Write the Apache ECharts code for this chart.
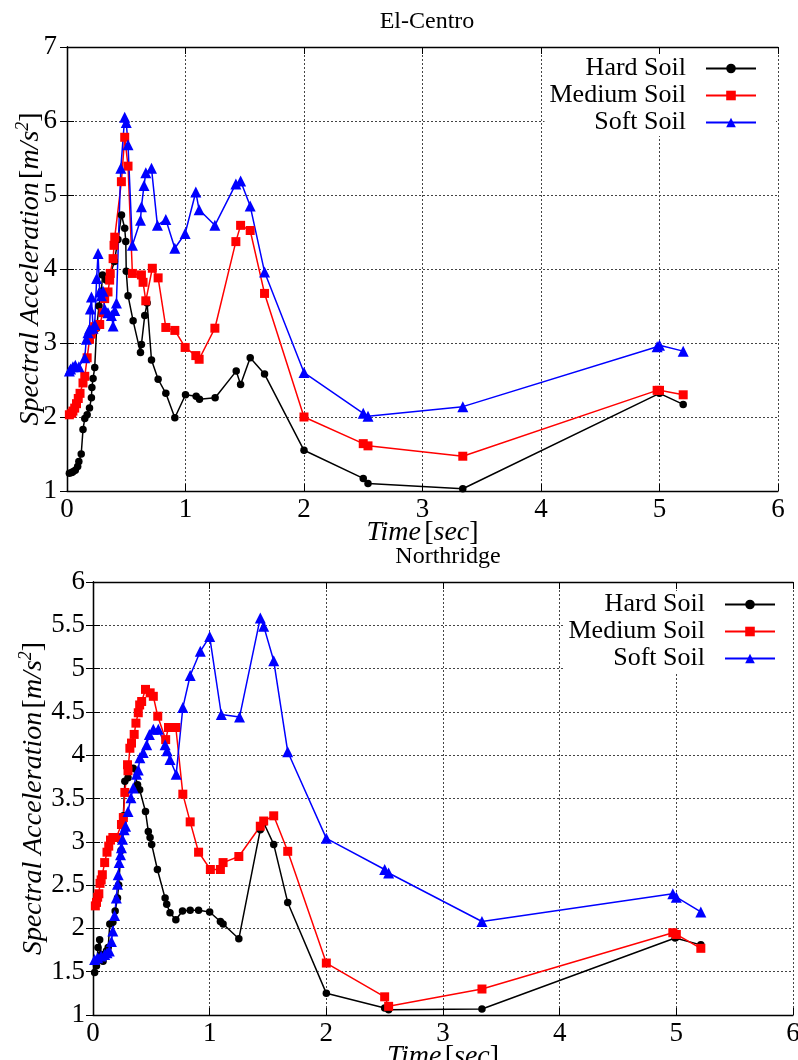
<!DOCTYPE html>
<html>
<head>
<meta charset="utf-8">
<script src="https://cdn.jsdelivr.net/npm/echarts@6/dist/echarts.min.js"></script>
<style>
html,body{margin:0;padding:0;background:#fff;}
#chart{width:798px;height:1060px;}
</style>
</head>
<body>
<div id="chart"></div>
<script>
// ---------- Data ----------
const seriesNames = ['Hard Soil', 'Medium Soil', 'Soft Soil'];
const chartTitles = ['El-Centro', 'Northridge'];

// El-Centro
const hardEC_T = [0.02,0.04,0.05,0.07,0.09,0.10,0.12,0.135,0.15,0.17,0.19,0.206,0.21,0.22,0.234,0.25,0.27,0.29,0.30,0.33,0.36,0.40,0.43,0.46,0.487,0.496,0.50,0.515,0.558,0.62,0.628,0.656,0.676,0.713,0.769,0.834,0.91,1.0,1.09,1.118,1.25,1.428,1.465,1.546,1.667,2.0,2.5,2.54,3.34,5.0,5.2];
const hardEC   = [1.24,1.25,1.26,1.28,1.33,1.40,1.50,1.83,1.98,2.03,2.12,2.26,2.40,2.52,2.67,3.2,3.5,3.7,3.92,3.85,3.9,4.1,4.4,4.73,4.55,4.37,3.97,3.64,3.30,2.87,2.98,3.37,3.54,2.77,2.51,2.32,1.99,2.30,2.28,2.24,2.26,2.62,2.44,2.80,2.58,1.55,1.17,1.10,1.03,2.32,2.17];

const medEC_T = [0.02,0.04,0.05,0.065,0.08,0.095,0.11,0.135,0.15,0.17,0.19,0.206,0.22,0.234,0.276,0.304,0.318,0.346,0.36,0.365,0.389,0.397,0.403,0.459,0.487,0.515,0.552,0.628,0.642,0.665,0.72,0.769,0.834,0.91,0.997,1.087,1.115,1.248,1.425,1.465,1.546,1.667,2.0,2.5,2.54,3.34,4.98,5.0,5.2];
const medEC   = [2.03,2.05,2.08,2.12,2.18,2.25,2.32,2.46,2.55,2.80,3.05,3.12,3.18,3.22,3.25,3.41,3.60,3.69,3.85,3.94,4.14,4.32,4.43,5.18,5.78,5.39,3.94,3.92,3.82,3.57,4.01,3.88,3.21,3.17,2.94,2.83,2.78,3.20,4.37,4.59,4.52,3.67,2.0,1.64,1.61,1.47,2.36,2.36,2.30];

const softEC_T = [0.02,0.03,0.05,0.07,0.10,0.15,0.163,0.177,0.19,0.197,0.206,0.22,0.234,0.25,0.262,0.276,0.29,0.304,0.318,0.346,0.375,0.389,0.403,0.417,0.454,0.487,0.50,0.515,0.552,0.62,0.628,0.65,0.665,0.713,0.763,0.834,0.91,0.997,1.087,1.115,1.248,1.425,1.465,1.546,1.667,2.0,2.5,2.54,3.34,4.98,5.0,5.2];
const softEC   = [2.62,2.65,2.68,2.70,2.68,2.80,3.05,3.14,3.19,3.46,3.62,3.20,3.25,3.87,4.21,3.69,3.64,3.70,3.46,3.41,3.37,3.23,3.44,3.54,5.36,6.05,5.98,5.68,4.32,4.66,4.84,5.13,5.30,5.36,4.59,4.67,4.28,4.48,5.04,4.80,4.59,5.15,5.19,4.85,3.96,2.60,2.05,2.01,2.14,2.95,2.97,2.89];

// Northridge
const hardNR_T = [0.014,0.03,0.043,0.057,0.07,0.086,0.115,0.13,0.144,0.17,0.19,0.21,0.22,0.24,0.26,0.273,0.30,0.345,0.382,0.40,0.45,0.474,0.489,0.503,0.552,0.618,0.632,0.66,0.71,0.767,0.833,0.905,1.0,1.092,1.115,1.25,1.434,1.463,1.549,1.669,2.0,2.5,2.534,3.334,4.99,5.0,5.21];
const hardNR   = [1.49,1.57,1.78,1.87,1.70,1.62,1.74,1.78,2.05,2.07,2.2,2.35,2.5,2.9,3.3,3.70,3.74,3.85,3.66,3.60,3.35,3.12,3.05,2.97,2.68,2.35,2.28,2.18,2.10,2.20,2.21,2.21,2.19,2.08,2.05,1.88,3.14,3.22,2.97,2.30,1.25,1.08,1.06,1.07,1.89,1.90,1.81];

const medNR_T = [0.02,0.03,0.04,0.05,0.06,0.07,0.08,0.1,0.12,0.135,0.15,0.17,0.2,0.244,0.26,0.273,0.296,0.30,0.316,0.33,0.353,0.368,0.388,0.40,0.417,0.45,0.49,0.517,0.555,0.623,0.647,0.71,0.77,0.833,0.905,1.006,1.092,1.115,1.25,1.434,1.463,1.549,1.669,2.0,2.5,2.534,3.334,4.97,5.0,5.21];
const medNR   = [2.26,2.30,2.36,2.40,2.52,2.56,2.62,2.76,2.88,2.95,3.02,3.05,3.05,3.20,3.28,3.57,3.89,3.82,4.08,4.14,4.24,4.37,4.49,4.58,4.62,4.76,4.72,4.68,4.45,4.18,4.32,4.32,3.55,3.23,2.88,2.68,2.68,2.76,2.83,3.18,3.24,3.30,2.89,1.60,1.21,1.10,1.30,1.95,1.93,1.77];

const softNR_T = [0.014,0.04,0.07,0.1,0.12,0.14,0.158,0.17,0.185,0.2,0.21,0.216,0.224,0.236,0.244,0.253,0.267,0.279,0.30,0.325,0.345,0.374,0.388,0.402,0.43,0.46,0.483,0.517,0.56,0.618,0.635,0.66,0.713,0.77,0.833,0.92,1.0,1.10,1.256,1.434,1.463,1.549,1.669,2.0,2.5,2.534,3.334,4.97,5.0,5.21];
const softNR   = [1.64,1.66,1.68,1.70,1.72,1.74,1.85,1.97,2.15,2.35,2.51,2.62,2.76,2.85,2.93,3.03,3.14,3.18,3.35,3.51,3.62,3.78,3.83,3.97,4.03,4.12,4.24,4.30,4.30,4.12,4.05,3.95,3.78,4.55,4.92,5.20,5.37,4.47,4.44,5.585,5.49,5.09,4.04,3.04,2.68,2.64,2.08,2.40,2.36,2.19];

// Axis ranges / ticks
const xRange = {min: 0, max: 6, interval: 1};
const yRangeEC = {min: 1, max: 7, interval: 1};
const yRangeNR = {min: 1, max: 6, interval: 0.5};

// ---------- Chart ----------
const FONT = '"Liberation Serif", "DejaVu Serif", serif';
const pairs = (xs, ys) => xs.map((x, i) => [x, ys[i]]);

const styles = [
  {color: '#000000', symbol: 'circle', symbolSize: 7.5},
  {color: '#ff0000', symbol: 'rect', symbolSize: 9},
  {color: '#0000ff', symbol: 'triangle', symbolSize: 11}
];

const grids = [
  {left: 67, right: 20, top: 47, height: 444, outerBoundsMode: 'none', containLabel: false},
  {left: 93, right: 5, top: 582, height: 433, outerBoundsMode: 'none', containLabel: false}
];

const axisLine = {show: true, lineStyle: {color: '#000', width: 1.3}};
const axisTick = {show: true, inside: true, length: 7, lineStyle: {color: '#000', width: 1}};
const splitLine = {show: true, lineStyle: {color: '#444', width: 1, type: [2, 2]}};
const labelStyle = {fontFamily: FONT, fontSize: 27, color: '#000'};

const nameRich = {
  i: {fontFamily: FONT, fontSize: 28, fontStyle: 'italic', color: '#000'},
  u: {fontFamily: FONT, fontSize: 28, color: '#000'},
  sup: {fontFamily: FONT, fontSize: 18, fontStyle: 'italic', color: '#000', padding: [0, 0, 15, 0]}
};
const xName = '{i|Time} {u|[}{i|sec}{u|]}';
const yName = '{i|Spectral Acceleration} {u|[}{i|m/s}{sup|2}{u|]}';

const xAxes = [], yAxes = [];
[0, 1].forEach(g => {
  const yr = g === 0 ? yRangeEC : yRangeNR;
  xAxes.push({
    type: 'value', gridIndex: g, position: 'bottom', ...xRange,
    axisLine, axisTick, splitLine,
    axisLabel: {...labelStyle, margin: 5},
    name: xName, nameLocation: 'middle', nameGap: 28, nameMoveOverlap: false,
    nameTextStyle: {rich: nameRich}
  });
  xAxes.push({
    type: 'value', gridIndex: g, position: 'top', ...xRange,
    axisLine, axisTick, splitLine: {show: false}, axisLabel: {show: false}
  });
  yAxes.push({
    type: 'value', gridIndex: g, position: 'left', ...yr,
    axisLine, axisTick, splitLine,
    axisLabel: {...labelStyle, margin: g === 0 ? 10 : 8},
    name: yName, nameLocation: 'middle', nameGap: g === 0 ? 20 : 43, nameMoveOverlap: false,
    nameTextStyle: {rich: nameRich}
  });
  yAxes.push({
    type: 'value', gridIndex: g, position: 'right', ...yr,
    axisLine, axisTick, splitLine: {show: false}, axisLabel: {show: false}
  });
});

const dataSets = [
  [pairs(hardEC_T, hardEC), pairs(medEC_T, medEC), pairs(softEC_T, softEC)],
  [pairs(hardNR_T, hardNR), pairs(medNR_T, medNR), pairs(softNR_T, softNR)]
];

const series = [];
[0, 1].forEach(g => {
  dataSets[g].forEach((d, k) => {
    series.push({
      type: 'line', name: seriesNames[k],
      xAxisIndex: g * 2, yAxisIndex: g * 2,
      data: d,
      symbol: styles[k].symbol, symbolSize: styles[k].symbolSize,
      showAllSymbol: true,
      lineStyle: {color: styles[k].color, width: 1.5},
      itemStyle: {color: styles[k].color},
      emphasis: {disabled: true}
    });
  });
});

const legendBase = {
  orient: 'vertical', align: 'right', itemGap: 0,
  itemWidth: 50, itemHeight: 12, backgroundColor: '#fff',
  textStyle: {fontFamily: FONT, fontSize: 26, color: '#000', lineHeight: 27, padding: [0, 15, 0, 0]},
  selectedMode: false, data: seriesNames
};

const option = {
  animation: false,
  backgroundColor: '#fff',
  title: [
    {text: chartTitles[0], left: 422, top: 5, textAlign: 'center',
     textStyle: {fontFamily: FONT, fontSize: 24, fontWeight: 'normal', color: '#000'}},
    {text: chartTitles[1], left: 443, top: 540, textAlign: 'center',
     textStyle: {fontFamily: FONT, fontSize: 24, fontWeight: 'normal', color: '#000'}}
  ],
  legend: [
    {...legendBase, top: 55, right: 22, padding: [0, 19, 0, 5]},
    {...legendBase, top: 591, right: 7, padding: [0, 15, 0, 5]}
  ],
  grid: grids,
  xAxis: xAxes,
  yAxis: yAxes,
  series
};

const chart = echarts.init(document.getElementById('chart'), null, {renderer: 'canvas'});
chart.setOption(option);
</script>
</body>
</html>
